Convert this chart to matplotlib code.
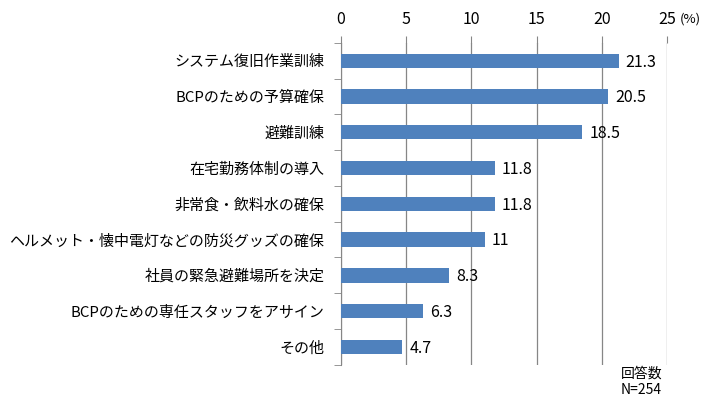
import matplotlib
matplotlib.use('Agg')
import matplotlib.pyplot as plt

plt.rcParams['font.family'] = ['Noto Sans CJK JP', 'DejaVu Sans']

categories = ['システム復旧作業訓練', 'BCPのための予算確保', '避難訓練', '在宅勤務体制の導入',
              '非常食・飲料水の確保', 'ヘルメット・懐中電灯などの防災グッズの確保',
              '社員の緊急避難場所を決定', 'BCPのための専任スタッフをアサイン', 'その他']
values = [21.3, 20.5, 18.5, 11.8, 11.8, 11, 8.3, 6.3, 4.7]
value_labels = ['21.3', '20.5', '18.5', '11.8', '11.8', '11', '8.3', '6.3', '4.7']
xticks = [0, 5, 10, 15, 20, 25]

fig = plt.figure(figsize=(7.15, 4.04), dpi=100)
ax = fig.add_axes([0.477, 0.097, 0.456, 0.797])

ypos = list(range(len(categories)))
ax.barh(ypos, values, height=0.4, color='#4F81BD', zorder=3)
for y, v, lab in zip(ypos, values, value_labels):
    ax.annotate(lab, (v, y), xytext=(5, -1), textcoords='offset points',
                va='center', ha='left', fontsize=11.5, zorder=4)

ax.set_xlim(0, 25)
ax.set_ylim(len(categories) - 0.5, -0.5)
ax.set_xticks(xticks)
ax.xaxis.tick_top()
ax.tick_params(axis='x', length=5, color='#868686', labelsize=11.5, pad=6)
ax.set_yticks(ypos)
ax.set_yticklabels(categories, fontsize=10.8)
ax.set_yticks([i - 0.5 for i in range(len(categories) + 1)], minor=True)
ax.tick_params(axis='y', which='major', length=0, pad=12)
ax.tick_params(axis='y', which='minor', length=5, color='#868686')
ax.grid(axis='x', color='#868686', linewidth=0.9, zorder=0)
for s in ['top', 'right', 'bottom']:
    ax.spines[s].set_visible(False)
ax.spines['left'].set_color('#868686')

fig.text(0.951, 0.952, '(%)', fontsize=9.5, ha='left', va='center')
fig.text(0.926, 0.055, '回答数\nN=254', fontsize=10, ha='right', va='center',
         multialignment='right', linespacing=1.15)

fig.savefig('out.png', dpi=100)
